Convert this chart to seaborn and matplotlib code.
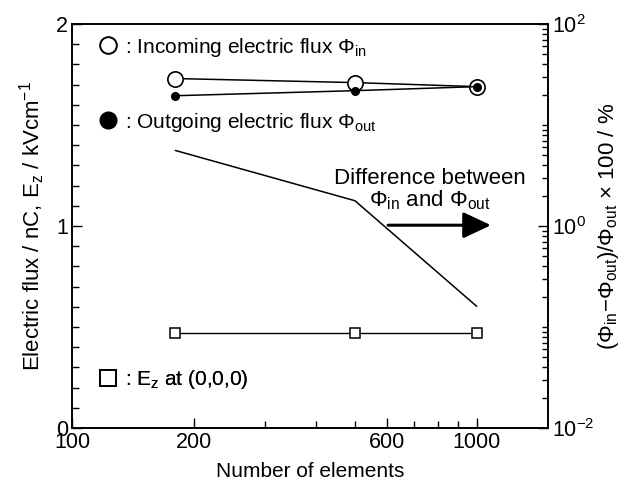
import numpy as np
import matplotlib
matplotlib.use("Agg")
import matplotlib.pyplot as plt
from matplotlib.lines import Line2D
from matplotlib.ticker import (FixedLocator, LogLocator, LogFormatterMathtext,
                               MultipleLocator, NullFormatter)
import seaborn as sns

# values
elements = [180, 500, 1000]
flux_in = [1.73, 1.71, 1.69]
flux_out = [1.645, 1.67, 1.69]
ez_origin = [0.47, 0.47, 0.47]
diff_pct = [5.6, 1.78, 0.16]

x_major = [100, 200, 600, 1000]
x_minor = [300, 400, 500, 700, 800, 900]
y_major = [0, 1, 2]
y2_major = [1e-2, 1e0, 1e2]

sns.set_theme(style="ticks")
plt.rcParams.update({
    "font.family": ["Liberation Sans", "DejaVu Sans"],
    "mathtext.fontset": "custom",
    "mathtext.rm": "Liberation Sans",
    "mathtext.it": "Liberation Sans:italic",
    "mathtext.default": "regular",
    "axes.edgecolor": "black",
    "axes.linewidth": 1.2,
    "xtick.direction": "in",
    "ytick.direction": "in",
    "xtick.color": "black",
    "ytick.color": "black",
    "text.color": "black",
    "axes.labelcolor": "black",
})

fig = plt.figure(figsize=(6.22, 4.93), dpi=100)
ax = fig.add_axes([0.1158, 0.1318, 0.7653, 0.8195])
ax.set_xscale("log")

sns.lineplot(x=elements, y=flux_in, ax=ax, color="black", lw=1.1,
             marker="o", markersize=11, markerfacecolor="white",
             markeredgecolor="black", markeredgewidth=1.2)
sns.lineplot(x=elements, y=flux_out, ax=ax, color="black", lw=1.1,
             marker="o", markersize=5.5, markerfacecolor="black",
             markeredgecolor="black", markeredgewidth=1.0)
sns.lineplot(x=elements, y=ez_origin, ax=ax, color="black", lw=1.0,
             marker="s", markersize=7, markerfacecolor="white",
             markeredgecolor="black", markeredgewidth=1.1)

ax.set_xlim(100, 1500)
ax.set_ylim(0, 2)
ax.xaxis.set_major_locator(FixedLocator(x_major))
ax.xaxis.set_minor_locator(FixedLocator(x_minor))
ax.set_xticklabels([str(v) for v in x_major])
ax.xaxis.set_minor_formatter(NullFormatter())
ax.yaxis.set_major_locator(FixedLocator(y_major))
ax.yaxis.set_minor_locator(MultipleLocator(0.1))
ax.tick_params(which="both", labelsize=15.5, width=1.0, pad=3)
ax.tick_params(which="major", length=7)
ax.tick_params(which="minor", length=5)
ax.set_xlabel("Number of elements", fontsize=15, labelpad=6)
ax.set_ylabel("Electric flux / nC, E$_z$ / kVcm$^{-1}$", fontsize=16, labelpad=6)

ax2 = ax.twinx()
ax2.set_yscale("log")
sns.lineplot(x=elements, y=diff_pct, ax=ax2, color="black", lw=1.1)
ax2.set_ylim(1e-2, 1e2)
ax2.yaxis.set_major_locator(FixedLocator(y2_major))
ax2.yaxis.set_major_formatter(LogFormatterMathtext())
ax2.yaxis.set_minor_locator(LogLocator(base=10, subs=np.arange(1, 10), numticks=20))
ax2.yaxis.set_minor_formatter(NullFormatter())
ax2.tick_params(which="both", labelsize=15.5, width=1.0, pad=3, direction="in")
ax2.tick_params(which="major", length=7)
ax2.tick_params(which="minor", length=4)
ax2.set_ylabel("(Φ$_\\mathrm{in}$−Φ$_\\mathrm{out}$)/Φ$_\\mathrm{out}$ × 100 / %",
               fontsize=16, labelpad=1)

# key entries
keys = [
    (Line2D([], [], ls="none", marker="o", ms=12, mfc="white", mec="black", mew=1.4),
     ": Incoming electric flux Φ$_\\mathrm{in}$", 0.943),
    (Line2D([], [], ls="none", marker="o", ms=12, mfc="black", mec="black"),
     ": Outgoing electric flux Φ$_\\mathrm{out}$", 0.757),
    (Line2D([], [], ls="none", marker="s", ms=11, mfc="white", mec="black", mew=1.4),
     ": E$_z$ at (0,0,0)", 0.119),
]
for handle, label, ypos in keys:
    leg = ax2.legend([handle], [label], loc="center left",
                     bbox_to_anchor=(0.054, ypos), frameon=False,
                     handlelength=1.0, handletextpad=0.3, borderpad=0,
                     borderaxespad=0, fontsize=15)
    ax2.add_artist(leg)

ax2.text(0.752, 0.589, "Difference between\nΦ$_\\mathrm{in}$ and Φ$_\\mathrm{out}$",
         transform=ax2.transAxes, ha="center", va="center", fontsize=16,
         linespacing=1.0)
ax2.annotate("", xy=(0.880, 0.502), xytext=(0.664, 0.502),
             xycoords="axes fraction", textcoords="axes fraction",
             arrowprops=dict(arrowstyle="-|>,head_length=0.85,head_width=0.4",
                             lw=2.2, color="black", mutation_scale=20,
                             shrinkA=0, shrinkB=0))

fig.savefig("out.png", dpi=100)
